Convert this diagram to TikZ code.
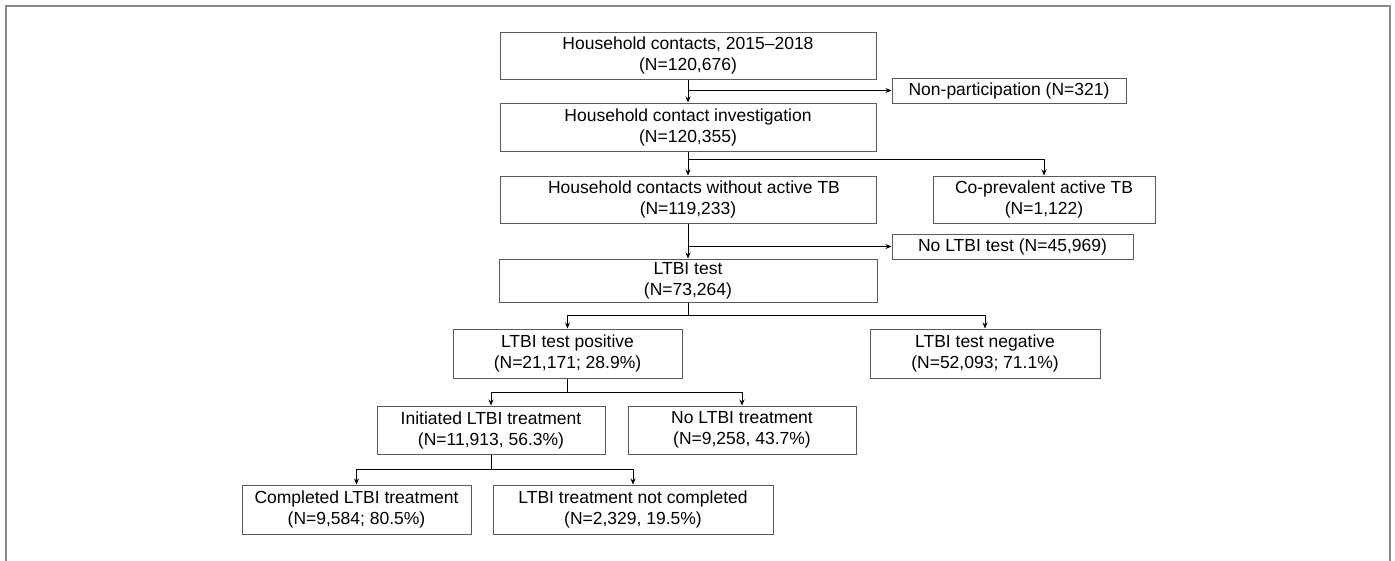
\documentclass[tikz,border=0pt]{standalone}
\usepackage{fontspec}
\setmainfont{Liberation Sans}
\usetikzlibrary{arrows.meta}
\definecolor{boxline}{HTML}{5A5A5A}
\definecolor{framecol}{HTML}{8A8A8A}
\tikzset{
  fbox/.style={draw=boxline, line width=1pt, align=center, inner sep=0pt,
    font=\fontsize{17.5}{21}\selectfont, text=black},
  arr/.style={draw=black, line width=0.9pt, -{Stealth[length=6pt,width=5pt]}},
  conn/.style={draw=black, line width=0.9pt}
}
\begin{document}
\begin{tikzpicture}[x=1pt,y=-1pt]
\useasboundingbox (0,0) rectangle (1395,560);
\draw[framecol, line width=2pt] (6,6) rectangle (1390,580);

\node[fbox, minimum width=376pt, minimum height=47pt] (b1) at (688,55.5) {Household contacts, 2015–2018\\(N=120,676)};
\node[fbox, minimum width=234pt, minimum height=25pt] (np) at (1009,90.5) {Non-participation (N=321)};
\node[fbox, minimum width=376pt, minimum height=48pt] (b2) at (688,127) {Household contact investigation\\(N=120,355)};
\node[fbox, minimum width=376pt, minimum height=47pt] (b3) at (688,199.5) {\hspace{12pt}Household contacts without active TB\\(N=119,233)};
\node[fbox, minimum width=222pt, minimum height=47pt] (cp) at (1044,199.5) {Co-prevalent active TB\\(N=1,122)};
\node[fbox, minimum width=241pt, minimum height=25pt] (nt) at (1012.5,246.5) {No LTBI test (N=45,969)};
\node[fbox, minimum width=378pt, minimum height=43pt] (b4) at (688,280.5) {LTBI test\\(N=73,264)};
\node[fbox, minimum width=229pt, minimum height=49pt] (pos) at (567.5,353.5) {LTBI test positive\\(N=21,171; 28.9\%)};
\node[fbox, minimum width=230pt, minimum height=49pt] (neg) at (985,353.5) {LTBI test negative\\(N=52,093; 71.1\%)};
\node[fbox, minimum width=228pt, minimum height=48pt] (ini) at (491,430) {Initiated LTBI treatment\\(N=11,913, 56.3\%)};
\node[fbox, minimum width=228pt, minimum height=48pt] (ntr) at (742,430) {No LTBI treatment\\(N=9,258, 43.7\%)};
\node[fbox, minimum width=229pt, minimum height=49pt] (cmp) at (356.5,509.5) {Completed LTBI treatment\\(N=9,584; 80.5\%)};
\node[fbox, minimum width=280pt, minimum height=49pt] (ncp) at (633,509.5) {LTBI treatment not completed\\(N=2,329, 19.5\%)};

\coordinate (j2) at (688,159);
\coordinate (j4) at (688,315);
\coordinate (j5) at (567.5,392);
\coordinate (j6) at (491,469);

\draw[arr] (b1.south) -- (b2.north);
\draw[arr] (b1.south |- np.west) -- (np.west);

\draw[arr] (b2.south) -- (b3.north);
\draw[arr] (j2) -| (cp.north);

\draw[arr] (b3.south) -- (b4.north);
\draw[arr] (b3.south |- nt.west) -- (nt.west);

\draw[conn] (b4.south) -- (j4);
\draw[arr] (j4) -| (pos.north);
\draw[arr] (j4) -| (neg.north);

\draw[conn] (pos.south) -- (j5);
\draw[arr] (j5) -| (ini.north);
\draw[arr] (j5) -| (ntr.north);

\draw[conn] (ini.south) -- (j6);
\draw[arr] (j6) -| (cmp.north);
\draw[arr] (j6) -| (ncp.north);
\end{tikzpicture}
\end{document}
